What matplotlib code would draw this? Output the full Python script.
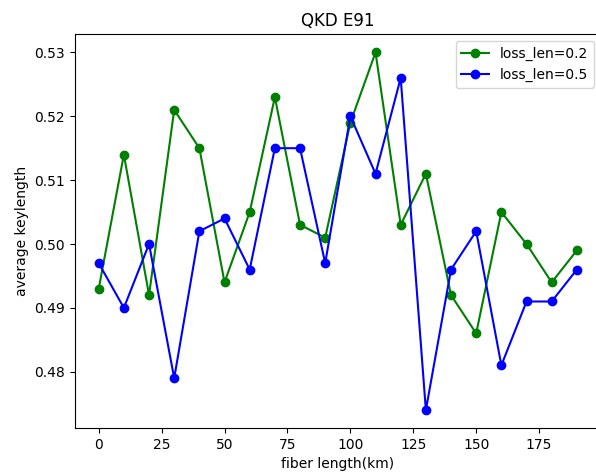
import matplotlib
matplotlib.use("Agg")
import matplotlib.pyplot as plt

# fiber length (km)
lengths = [0, 10, 20, 30, 40, 50, 60, 70, 80, 90, 100, 110, 120, 130, 140, 150, 160, 170, 180, 190]

# average key length for each loss coefficient
key_02 = [0.493, 0.514, 0.492, 0.521, 0.515, 0.494, 0.505, 0.523, 0.503, 0.501,
          0.519, 0.530, 0.503, 0.511, 0.492, 0.486, 0.505, 0.500, 0.494, 0.499]
key_05 = [0.497, 0.490, 0.500, 0.479, 0.502, 0.504, 0.496, 0.515, 0.515, 0.497,
          0.520, 0.511, 0.526, 0.474, 0.496, 0.502, 0.481, 0.491, 0.491, 0.496]

fig = plt.figure(figsize=(5.96, 4.75), dpi=100)
ax = fig.add_subplot(1, 1, 1)
# the reference is a tight crop, right spine falls just outside
fig.subplots_adjust(left=0.1255, right=1.008, bottom=0.099, top=0.9274)

ax.plot(lengths, key_02, 'o-', color='green', label='loss_len=0.2')
ax.plot(lengths, key_05, 'o-', color='blue', label='loss_len=0.5')

ax.set_title('QKD E91')
ax.set_xlabel('fiber length(km)')
ax.set_ylabel('average keylength')
ax.legend()

fig.savefig('out.png', dpi=100)
